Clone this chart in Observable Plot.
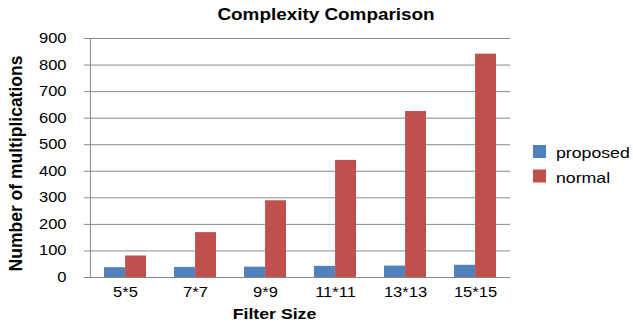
<!DOCTYPE html>
<html>
<head>
<meta charset="utf-8">
<script src="https://cdn.jsdelivr.net/npm/d3@7"></script>
<script src="https://cdn.jsdelivr.net/npm/@observablehq/plot@0.6"></script>
<style>
  body { margin: 0; background: #fff; }
</style>
</head>
<body>
<div id="chart"></div>
<script>
// Filter sizes and the multiplication counts for each method
const sizes = ["5*5", "7*7", "9*9", "11*11", "13*13", "15*15"];
const proposed = [37, 38, 39, 42, 43, 46];
const normal = [81, 169, 289, 441, 625, 841];
const yTicks = [0, 100, 200, 300, 400, 500, 600, 700, 800, 900];
const seriesNames = ["proposed", "normal"];
const seriesColors = ["#4F81BD", "#C0504D"];

const rows = sizes.flatMap((s, i) => [
  {size: s, series: "proposed", value: proposed[i]},
  {size: s, series: "normal", value: normal[i]}
]);

const W = 633, H = 328;
const mL = 89, mR = 123, mT = 38, mB = 51;
const FONT = "'Liberation Sans', Arial, Helvetica, sans-serif";
const WIDEN = 1.18; // horizontal stretch of the lettering

// each category band holds the pair of bars; each bar takes half the band
const step = (W - mL - mR) / sizes.length;
const half = step * 0.6 / 2;

const plot = Plot.plot({
  width: W,
  height: H,
  marginLeft: mL,
  marginRight: mR,
  marginTop: mT,
  marginBottom: mB,
  style: {fontFamily: FONT, fontSize: "14px", color: "#000", background: "#fff"},
  x: {domain: sizes, paddingInner: 0.4, paddingOuter: 0.2, axis: null},
  y: {domain: [0, 900], axis: null},
  color: {domain: seriesNames, range: seriesColors},
  marks: [
    Plot.ruleY(yTicks, {y: d => d, stroke: "#888", strokeWidth: 1, insetLeft: -5}),
    Plot.barY(rows.filter(d => d.series === "proposed"), {x: "size", y: "value", fill: "series", insetRight: half}),
    Plot.barY(rows.filter(d => d.series === "normal"), {x: "size", y: "value", fill: "series", insetLeft: half}),
    Plot.ruleX([sizes[0]], {x: d => d, y1: 0, y2: 900, stroke: "#888", dx: -step / 2}),
    Plot.axisY({ticks: yTicks, tickSize: 0, tickPadding: 23, fontSize: 14, fill: "#000", label: null}),
    Plot.axisX({tickSize: 0, tickPadding: 10, fontSize: 14, fill: "#000", label: null})
  ]
});

document.getElementById("chart").appendChild(plot);
const svg = d3.select(plot);

// widen a horizontal text along its baseline, keeping its anchor
function widen(node) {
  const len = node.getComputedTextLength();
  if (len > 0) {
    node.setAttribute("textLength", len * WIDEN);
    node.setAttribute("lengthAdjust", "spacingAndGlyphs");
  }
}
svg.selectAll("text").each(function() { widen(this); });

function label(text, x, y, size, opts = {}) {
  const t = svg.append("text")
    .attr("transform", `translate(${x},${y})${opts.rotate ? ` rotate(${opts.rotate})` : ""}`)
    .attr("text-anchor", opts.anchor || "middle")
    .attr("font-family", FONT)
    .attr("font-size", size)
    .attr("font-weight", opts.bold ? "bold" : null)
    .attr("fill", "#000")
    .text(text);
  if (!opts.rotate) widen(t.node());
  return t;
}

// chart title and axis titles
label("Complexity Comparison", 326, 20, 16, {bold: true});
label("Filter Size", 274.5, 318.5, 15, {bold: true});
label("Number of multiplications", 22, 163.5, 17.5, {bold: true, rotate: -90});

// legend
seriesNames.forEach((n, i) => {
  svg.append("rect")
    .attr("x", 533).attr("y", 145 + i * 24.5)
    .attr("width", 13).attr("height", 13)
    .attr("fill", seriesColors[i]);
  label(n, 556, 158 + i * 24.5, 15, {anchor: "start"});
});
</script>
</body>
</html>
